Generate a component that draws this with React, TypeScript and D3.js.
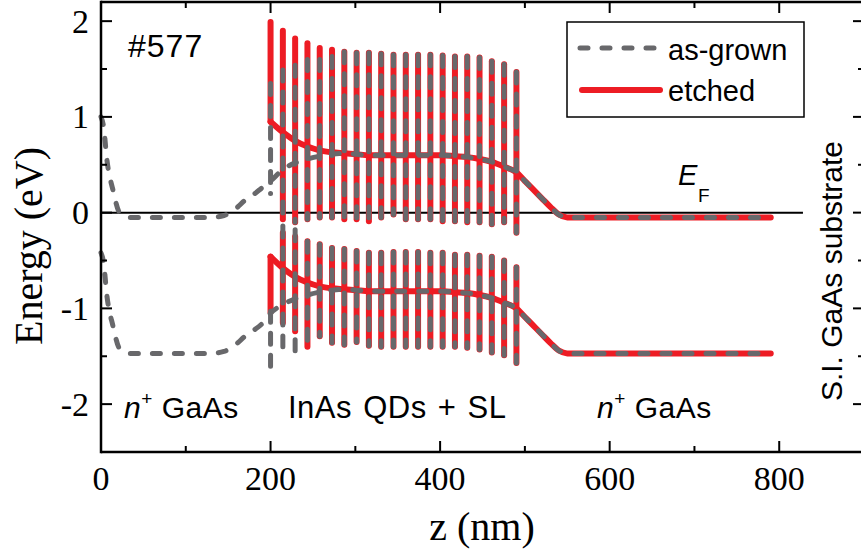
import React from "react";
import * as d3 from "d3";

// Superlattice period positions (nm): barrier / QD layers
const wellZ = [200, 214.5, 229, 243.5, 258, 272.5, 287, 301.5, 316, 330.5, 345, 359.5, 374, 388.5, 403, 417.5, 432, 446.5, 461, 475.5, 490];

// Etched sample: conduction band inside the SL (eV)
const cbTopEtched = [1.99, 1.9, 1.82, 1.77, 1.72, 1.7, 1.68, 1.67, 1.67, 1.66, 1.65, 1.65, 1.65, 1.65, 1.64, 1.63, 1.63, 1.62, 1.58, 1.55, 1.47];
const cbBottomEtched = [0.95, -0.07, -0.1, -0.07, -0.05, -0.05, -0.07, -0.07, -0.09, -0.05, -0.02, -0.07, -0.07, -0.07, -0.09, -0.09, -0.1, -0.1, -0.12, -0.1, -0.21];
const cbBaseEtched = [0.95, 0.84, 0.75, 0.69, 0.65, 0.63, 0.62, 0.61, 0.6, 0.6, 0.6, 0.6, 0.6, 0.6, 0.6, 0.59, 0.58, 0.56, 0.53, 0.48, 0.42];

// Etched sample: valence band inside the SL (eV)
const vbTopEtched = [-0.46, -0.21, -0.25, -0.3, -0.33, -0.37, -0.38, -0.4, -0.42, -0.42, -0.41, -0.41, -0.41, -0.42, -0.42, -0.44, -0.44, -0.45, -0.46, -0.5, -0.57];
const vbBottomEtched = [-1.04, -1.15, -1.24, -1.4, -1.29, -1.36, -1.38, -1.35, -1.39, -1.4, -1.4, -1.4, -1.4, -1.4, -1.4, -1.4, -1.41, -1.43, -1.46, -1.49, -1.57];
const vbBaseEtched = [-0.46, -0.58, -0.67, -0.73, -0.77, -0.79, -0.8, -0.81, -0.82, -0.82, -0.82, -0.82, -0.82, -0.82, -0.82, -0.83, -0.84, -0.86, -0.89, -0.94, -1.0];

// As-grown sample: conduction band inside the SL (eV)
const cbTopGrown = [1.35, 1.49, 1.54, 1.6, 1.6, 1.63, 1.68, 1.67, 1.67, 1.66, 1.65, 1.65, 1.65, 1.65, 1.64, 1.63, 1.63, 1.62, 1.58, 1.55, 1.47];
const cbBottomGrown = [0.2, -0.05, -0.1, -0.07, -0.05, -0.05, -0.07, -0.07, -0.09, -0.05, -0.02, -0.07, -0.07, -0.07, -0.09, -0.09, -0.1, -0.1, -0.12, -0.1, -0.21];
const cbBaseGrown = [0.33, 0.45, 0.52, 0.56, 0.59, 0.61, 0.62, 0.61, 0.6, 0.6, 0.6, 0.6, 0.6, 0.6, 0.6, 0.59, 0.58, 0.56, 0.53, 0.48, 0.42];

// As-grown sample: valence band inside the SL (eV)
const vbTopGrown = [-1.03, -0.14, -0.18, -0.3, -0.33, -0.37, -0.38, -0.4, -0.42, -0.42, -0.41, -0.41, -0.41, -0.42, -0.42, -0.44, -0.44, -0.45, -0.46, -0.5, -0.57];
const vbBottomGrown = [-1.63, -1.4, -1.46, -1.43, -1.29, -1.36, -1.38, -1.35, -1.39, -1.4, -1.4, -1.4, -1.4, -1.4, -1.4, -1.4, -1.41, -1.43, -1.46, -1.49, -1.57];
const vbBaseGrown = [-1.05, -0.96, -0.9, -0.86, -0.83, -0.81, -0.8, -0.81, -0.82, -0.82, -0.82, -0.82, -0.82, -0.82, -0.82, -0.83, -0.84, -0.86, -0.89, -0.94, -1.0];

// As-grown top n+ GaAs layer (z < 200 nm)
const leftZ = [0, 3, 7, 14, 22, 34, 130, 145, 152, 160, 170, 180, 190];
const cbLeftGrown = [1.0, 0.9, 0.55, 0.24, 0.0, -0.05, -0.05, -0.03, 0.0, 0.05, 0.13, 0.19, 0.26];
const vbLeftGrown = [-0.42, -0.52, -0.87, -1.18, -1.42, -1.47, -1.47, -1.45, -1.42, -1.37, -1.29, -1.23, -1.16];

// Bottom n+ GaAs layer (z > 490 nm), common to both samples
const rightZ = [500, 510, 520, 530, 540, 550, 560, 790];
const cbRight = [0.33, 0.24, 0.15, 0.06, -0.02, -0.05, -0.05, -0.05];
const vbRight = [-1.09, -1.18, -1.27, -1.36, -1.44, -1.47, -1.47, -1.47];

const fermiEnd = 828;

const xMajor = [0, 200, 400, 600, 800];
const xMinor = [100, 300, 500, 700];
const yMajor = [-2, -1, 0, 1, 2];
const yMinor = [-1.5, -0.5, 0.5, 1.5];

const RED = "#ed1c24";
const GRAY = "#68686b";
const SANS = "'Liberation Sans', Arial, sans-serif";
const SERIF = "'Liberation Serif', 'Times New Roman', serif";

const W = 861;
const H = 551;

const x = d3.scaleLinear().domain([0, 900]).range([101, 864]);
const y = d3.scaleLinear().domain([-2.5, 2.2]).range([452, 2]);

const line = d3
  .line<[number, number]>()
  .x((d) => x(d[0]))
  .y((d) => y(d[1]))
  .curve(d3.curveMonotoneX);

const zip = (zs: number[], es: number[]) => zs.map((z, i) => [z, es[i]] as [number, number]);

const etchedCB = line([...zip(wellZ, cbBaseEtched), ...zip(rightZ, cbRight)]) || "";
const etchedVB = line([...zip(wellZ, vbBaseEtched), ...zip(rightZ, vbRight)]) || "";
const grownCB = line([...zip(leftZ, cbLeftGrown), ...zip(wellZ, cbBaseGrown), ...zip(rightZ, cbRight)]) || "";
const grownVB = line([...zip(leftZ, vbLeftGrown), ...zip(wellZ, vbBaseGrown), ...zip(rightZ, vbRight)]) || "";

const RED_W = 6;
const GRAY_W = 5;
const DASH = "8 14";
const SPIKE_DASH = "11 11";

function Spikes({ tops, bottoms, color, width, dash }: { tops: number[]; bottoms: number[]; color: string; width: number; dash?: string }) {
  return (
    <g stroke={color} strokeWidth={width} strokeLinecap="round" strokeDasharray={dash} fill="none">
      {wellZ.map((z, i) => (
        <line key={i} x1={x(z)} x2={x(z)} y1={y(tops[i])} y2={y(bottoms[i])} />
      ))}
    </g>
  );
}

export default function App() {
  const [x0, x1] = x.range();
  const [yb, yt] = y.range();
  return (
    <svg width={W} height={H} style={{ position: "absolute", left: 0, top: 0, background: "#fff" }}>
      <rect x={0} y={0} width={W} height={H} fill="#fff" />

      {/* Fermi level */}
      <line x1={x(0)} x2={x(fermiEnd)} y1={y(0)} y2={y(0)} stroke="#000" strokeWidth={2} />

      {/* etched */}
      <g>
        <path d={etchedCB} stroke={RED} strokeWidth={RED_W} fill="none" strokeLinecap="round" strokeLinejoin="round" />
        <path d={etchedVB} stroke={RED} strokeWidth={RED_W} fill="none" strokeLinecap="round" strokeLinejoin="round" />
        <Spikes tops={cbTopEtched} bottoms={cbBottomEtched} color={RED} width={RED_W} />
        <Spikes tops={vbTopEtched} bottoms={vbBottomEtched} color={RED} width={RED_W} />
      </g>

      {/* as-grown */}
      <g>
        <path d={grownCB} stroke={GRAY} strokeWidth={GRAY_W} fill="none" strokeLinecap="round" strokeDasharray={DASH} />
        <path d={grownVB} stroke={GRAY} strokeWidth={GRAY_W} fill="none" strokeLinecap="round" strokeDasharray={DASH} />
        <Spikes tops={cbTopGrown} bottoms={cbBottomGrown} color={GRAY} width={GRAY_W} dash={SPIKE_DASH} />
        <Spikes tops={vbTopGrown} bottoms={vbBottomGrown} color={GRAY} width={GRAY_W} dash={SPIKE_DASH} />
      </g>

      {/* frame */}
      <g stroke="#000" strokeWidth={2.5} fill="none">
        <line x1={x0} x2={x0} y1={yb + 1.25} y2={yt - 1.25} />
        <line x1={x1} x2={x1} y1={yb + 1.25} y2={yt - 1.25} />
        <line x1={x0} x2={x1} y1={yb} y2={yb} />
        <line x1={x0} x2={x1} y1={yt} y2={yt} />
      </g>
      <g stroke="#000" strokeWidth={2}>
        {xMajor.map((v) => (
          <g key={"xM" + v}>
            <line x1={x(v)} x2={x(v)} y1={yb} y2={yb - 11} />
            <line x1={x(v)} x2={x(v)} y1={yt} y2={yt + 11} />
          </g>
        ))}
        {xMinor.map((v) => (
          <g key={"xm" + v}>
            <line x1={x(v)} x2={x(v)} y1={yb} y2={yb - 6} />
            <line x1={x(v)} x2={x(v)} y1={yt} y2={yt + 6} />
          </g>
        ))}
        {yMajor.map((v) => (
          <g key={"yM" + v}>
            <line x1={x0} x2={x0 + 11} y1={y(v)} y2={y(v)} />
            <line x1={x1} x2={x1 - 11} y1={y(v)} y2={y(v)} />
          </g>
        ))}
        {yMinor.map((v) => (
          <g key={"ym" + v}>
            <line x1={x0} x2={x0 + 6} y1={y(v)} y2={y(v)} />
            <line x1={x1} x2={x1 - 6} y1={y(v)} y2={y(v)} />
          </g>
        ))}
      </g>

      {/* tick labels */}
      <g fontFamily={SERIF} fontSize={34} fill="#000">
        {xMajor.map((v) => (
          <text key={"xl" + v} x={x(v)} y={490} textAnchor="middle">
            {v}
          </text>
        ))}
        {yMajor.map((v) => (
          <text key={"yl" + v} x={89} y={y(v)} dy="0.34em" textAnchor="end">
            {v < 0 ? "-" + Math.abs(v) : v}
          </text>
        ))}
      </g>

      {/* axis titles */}
      <text x={482} y={540} fontFamily={SERIF} fontSize={40} textAnchor="middle">
        z (nm)
      </text>
      <text transform="translate(42,246) rotate(-90)" fontFamily={SERIF} fontSize={40} textAnchor="middle">
        Energy (eV)
      </text>

      {/* annotations */}
      <g fontFamily={SANS} fill="#000">
        <text x={128} y={57} fontSize={32} letterSpacing={1}>#577</text>
        <text x={678} y={185} fontSize={29} fontStyle="italic">E</text>
        <text x={698} y={202} fontSize={19}>F</text>
        <text transform="translate(842,271) rotate(-90)" fontSize={30} textAnchor="middle">
          S.I. GaAs substrate
        </text>
        <text x={124} y={418} fontSize={30} letterSpacing={0.5}>
          <tspan fontStyle="italic">n</tspan>
          <tspan fontSize={19} dy={-13}>+</tspan>
          <tspan dy={13}> GaAs</tspan>
        </text>
        <text x={288} y={418} fontSize={31} letterSpacing={0.5} wordSpacing={2}>
          InAs QDs + SL
        </text>
        <text x={597} y={418} fontSize={30} letterSpacing={0.5}>
          <tspan fontStyle="italic">n</tspan>
          <tspan fontSize={19} dy={-13}>+</tspan>
          <tspan dy={13}> GaAs</tspan>
        </text>
      </g>

      {/* legend */}
      <g>
        <rect x={567} y={22} width={237} height={95} fill="#fff" stroke="#000" strokeWidth={1.5} />
        <line x1={580} x2={658} y1={48} y2={48} stroke={GRAY} strokeWidth={GRAY_W} strokeLinecap="round" strokeDasharray={DASH} />
        <line x1={582} x2={660} y1={90} y2={90} stroke={RED} strokeWidth={RED_W} strokeLinecap="round" />
        <text x={668} y={60} fontFamily={SANS} fontSize={29}>as-grown</text>
        <text x={668} y={101} fontFamily={SANS} fontSize={29}>etched</text>
      </g>
    </svg>
  );
}
